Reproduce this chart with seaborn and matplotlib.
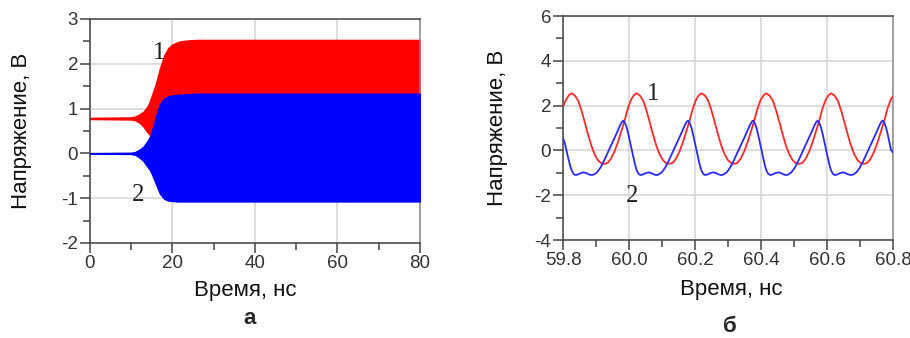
import numpy as np
import pandas as pd
import matplotlib
matplotlib.use("Agg")
import matplotlib.pyplot as plt
from matplotlib.ticker import MultipleLocator, FormatStrFormatter
import seaborn as sns

# ---------------- data: left panel (envelopes of the oscillations) ----------------
t_env = [0, 10, 11, 12, 13, 14, 14.5, 15, 16, 17, 18, 19, 20, 21, 22, 24, 26, 30, 80]
red_top = [0.79, 0.80, 0.82, 0.87, 0.93, 1.05, 1.15, 1.28, 1.55, 1.90, 2.18, 2.35, 2.43, 2.47, 2.50, 2.52, 2.53, 2.53, 2.53]
red_bot = [0.77, 0.76, 0.74, 0.69, 0.60, 0.47, 0.42, 0.30, 0.05, -0.20, -0.40, -0.50, -0.57, -0.60, -0.60, -0.60, -0.60, -0.60, -0.60]
blue_top = [0.0, 0.01, 0.03, 0.08, 0.15, 0.28, 0.36, 0.48, 0.82, 1.10, 1.22, 1.27, 1.29, 1.30, 1.31, 1.32, 1.33, 1.33, 1.33]
blue_bot = [0.0, -0.01, -0.03, -0.09, -0.17, -0.30, -0.36, -0.45, -0.68, -0.90, -1.01, -1.05, -1.06, -1.07, -1.07, -1.07, -1.07, -1.07, -1.07]

# ---------------- data: right panel (zoomed waveforms) ----------------
t_red = [59.800, 59.809, 59.818, 59.826, 59.836, 59.846, 59.856, 59.866, 59.876, 59.886, 59.896, 59.906, 59.916, 59.926,
         59.936, 59.946, 59.956, 59.966, 59.976, 59.986, 59.996, 60.006, 60.015, 60.023, 60.033, 60.043, 60.053, 60.063,
         60.073, 60.083, 60.093, 60.103, 60.113, 60.123,
         60.133, 60.143, 60.153, 60.163, 60.173, 60.183, 60.193, 60.203, 60.212, 60.220, 60.230, 60.240, 60.250, 60.260,
         60.270, 60.280, 60.290, 60.300, 60.310, 60.320,
         60.329, 60.339, 60.349, 60.359, 60.369, 60.379, 60.389, 60.399, 60.408, 60.416, 60.426, 60.436, 60.446, 60.456,
         60.466, 60.476, 60.486, 60.496, 60.506, 60.516,
         60.526, 60.536, 60.546, 60.556, 60.566, 60.576, 60.586, 60.596, 60.605, 60.613, 60.623, 60.633, 60.643, 60.653,
         60.663, 60.673, 60.683, 60.693, 60.703, 60.713,
         60.723, 60.733, 60.743, 60.753, 60.763, 60.773, 60.783, 60.793, 60.800]
v_red = [1.95, 2.26, 2.47, 2.55, 2.45, 2.22, 1.78, 1.25, 0.70, 0.20, -0.18, -0.44, -0.57, -0.60,
         -0.55, -0.35, -0.05, 0.35, 0.82, 1.30, 1.85, 2.26, 2.47, 2.55, 2.45, 2.22, 1.78, 1.25,
         0.70, 0.20, -0.18, -0.44, -0.57, -0.60,
         -0.55, -0.35, -0.05, 0.35, 0.82, 1.30, 1.85, 2.26, 2.47, 2.55, 2.45, 2.22, 1.78, 1.25,
         0.70, 0.20, -0.18, -0.44, -0.57, -0.60,
         -0.55, -0.35, -0.05, 0.35, 0.82, 1.30, 1.85, 2.26, 2.47, 2.55, 2.45, 2.22, 1.78, 1.25,
         0.70, 0.20, -0.18, -0.44, -0.57, -0.60,
         -0.55, -0.35, -0.05, 0.35, 0.82, 1.30, 1.85, 2.26, 2.47, 2.55, 2.45, 2.22, 1.78, 1.25,
         0.70, 0.20, -0.18, -0.44, -0.57, -0.60,
         -0.55, -0.35, -0.05, 0.35, 0.82, 1.30, 1.85, 2.26, 2.42]

t_blue = [59.800, 59.806, 59.811, 59.816, 59.821, 59.826, 59.832, 59.838, 59.846, 59.854, 59.862, 59.870, 59.878, 59.886,
          59.893, 59.903, 59.913, 59.923, 59.933, 59.943, 59.953, 59.963, 59.973, 59.979, 59.983, 59.988, 59.993, 59.998,
          60.003, 60.008, 60.013, 60.018, 60.023, 60.029, 60.035, 60.043, 60.051, 60.059, 60.067, 60.075, 60.083,
          60.089, 60.099, 60.109, 60.119, 60.129, 60.139, 60.149, 60.159, 60.169, 60.175, 60.179, 60.184, 60.189, 60.194,
          60.199, 60.204, 60.209, 60.214, 60.219, 60.225, 60.231, 60.239, 60.247, 60.255, 60.263, 60.271, 60.279,
          60.286, 60.296, 60.306, 60.316, 60.326, 60.336, 60.346, 60.356, 60.366, 60.372, 60.376, 60.381, 60.386, 60.391,
          60.396, 60.401, 60.406, 60.411, 60.416, 60.422, 60.428, 60.436, 60.444, 60.452, 60.460, 60.468, 60.476,
          60.482, 60.492, 60.502, 60.512, 60.522, 60.532, 60.542, 60.552, 60.562, 60.568, 60.572, 60.577, 60.582, 60.587,
          60.592, 60.597, 60.602, 60.607, 60.612, 60.618, 60.624, 60.632, 60.640, 60.648, 60.656, 60.664, 60.672,
          60.679, 60.689, 60.699, 60.709, 60.719, 60.729, 60.739, 60.749, 60.759, 60.765, 60.769, 60.774, 60.779, 60.784,
          60.789, 60.794, 60.800]
v_blue = [0.55, 0.30, -0.05, -0.36, -0.65, -0.88, -1.05, -1.10, -1.07, -1.01, -0.98, -1.01, -1.07, -1.10,
          -1.08, -0.98, -0.78, -0.50, -0.18, 0.14, 0.45, 0.78, 1.12, 1.28, 1.33, 1.22, 1.02, 0.72,
          0.38, 0.02, -0.30, -0.62, -0.88, -1.05, -1.10, -1.07, -1.01, -0.98, -1.01, -1.07, -1.10,
          -1.08, -0.98, -0.78, -0.50, -0.18, 0.14, 0.45, 0.78, 1.12, 1.28, 1.33, 1.22, 1.02, 0.72,
          0.38, 0.02, -0.30, -0.62, -0.88, -1.05, -1.10, -1.07, -1.01, -0.98, -1.01, -1.07, -1.10,
          -1.08, -0.98, -0.78, -0.50, -0.18, 0.14, 0.45, 0.78, 1.12, 1.28, 1.33, 1.22, 1.02, 0.72,
          0.38, 0.02, -0.30, -0.62, -0.88, -1.05, -1.10, -1.07, -1.01, -0.98, -1.01, -1.07, -1.10,
          -1.08, -0.98, -0.78, -0.50, -0.18, 0.14, 0.45, 0.78, 1.12, 1.28, 1.33, 1.22, 1.02, 0.72,
          0.38, 0.02, -0.30, -0.62, -0.88, -1.05, -1.10, -1.07, -1.01, -0.98, -1.01, -1.07, -1.10,
          -1.08, -0.98, -0.78, -0.50, -0.18, 0.14, 0.45, 0.78, 1.12, 1.28, 1.33, 1.22, 1.02, 0.72,
          0.38, 0.02, -0.10]

env = pd.DataFrame({"t": t_env, "red_top": red_top, "red_bot": red_bot,
                    "blue_top": blue_top, "blue_bot": blue_bot})
red = pd.DataFrame({"t": t_red, "v": v_red})
blue = pd.DataFrame({"t": t_blue, "v": v_blue})

# ---------------- style ----------------
sns.set_theme(style="ticks")
plt.rcParams["font.family"] = ["Liberation Sans", "DejaVu Sans"]
plt.rcParams["axes.linewidth"] = 1.1
plt.rcParams["axes.unicode_minus"] = False

fig = plt.figure(figsize=(9.1, 3.38), dpi=100)
ax1 = fig.add_axes([0.0989, 0.2811, 0.3626, 0.6627])
ax2 = fig.add_axes([0.6187, 0.2899, 0.3626, 0.6627])


def style_axis(ax):
    ax.grid(True, which="major", color="#d4d4d4", linewidth=1.1)
    ax.set_axisbelow(True)
    for side in ["left", "bottom", "top"]:
        ax.spines[side].set_color("#444444")
    ax.spines["right"].set_color("#8a8a8a")
    ax.tick_params(which="major", direction="out", length=7, width=1.1,
                   color="#444444", labelsize=13.5, labelcolor="#333333", pad=1.5)
    ax.tick_params(which="minor", direction="out", length=5, width=1.1, color="#444444")


# ---------------- panel a ----------------
ax1.fill_between(env["t"], env["red_bot"], env["red_top"], color="#ff0000",
                 edgecolor="#ff0000", linewidth=1.2, zorder=2)
ax1.fill_between(env["t"], env["blue_bot"], env["blue_top"], color="#0000ff",
                 edgecolor="#0000ff", linewidth=1.2, zorder=3)
ax1.set_xlim(0, 80)
ax1.set_ylim(-2, 3)
ax1.xaxis.set_major_locator(MultipleLocator(20))
ax1.xaxis.set_minor_locator(MultipleLocator(10))
ax1.yaxis.set_major_locator(MultipleLocator(1))
ax1.yaxis.set_minor_locator(MultipleLocator(0.5))
style_axis(ax1)
ax1.set_xlabel("Время, нс", fontsize=16, color="#111111")
ax1.set_ylabel("Напряжение, В", fontsize=16, color="#111111")
ax1.xaxis.set_label_coords(0.47, -0.165)
ax1.yaxis.set_label_coords(-0.176, 0.5)
ax1.text(16.7, 2.24, "1", family="Liberation Serif", fontsize=18, ha="center", va="center", color="#222222")
ax1.text(11.6, -0.93, "2", family="Liberation Serif", fontsize=18, ha="center", va="center", color="#222222")

# ---------------- panel б ----------------
sns.lineplot(data=red, x="t", y="v", ax=ax2, color="#ff2a2a", linewidth=1.3, zorder=3)
sns.lineplot(data=blue, x="t", y="v", ax=ax2, color="#2a2aff", linewidth=1.3, zorder=4)
ax2.set_xlim(59.8, 60.8)
ax2.set_ylim(-4, 6)
ax2.xaxis.set_major_locator(MultipleLocator(0.2))
ax2.xaxis.set_minor_locator(MultipleLocator(0.1))
ax2.xaxis.set_major_formatter(FormatStrFormatter("%.1f"))
ax2.yaxis.set_major_locator(MultipleLocator(2))
ax2.yaxis.set_minor_locator(MultipleLocator(1))
style_axis(ax2)
ax2.set_xlabel("Время, нс", fontsize=16, color="#111111")
ax2.set_ylabel("Напряжение, В", fontsize=16, color="#111111")
ax2.xaxis.set_label_coords(0.51, -0.175)
ax2.yaxis.set_label_coords(-0.167, 0.5)
ax2.text(60.072, 2.5, "1", family="Liberation Serif", fontsize=18, ha="center", va="center", color="#222222")
ax2.text(60.008, -2.04, "2", family="Liberation Serif", fontsize=18, ha="center", va="center", color="#222222")

fig.text(250 / 910, 1 - 319 / 338, "а", fontsize=16, fontweight="bold", ha="center", va="center")
fig.text(730 / 910, 1 - 326 / 338, "б", fontsize=16, fontweight="bold", ha="center", va="center")

fig.savefig("out.png", dpi=100)
